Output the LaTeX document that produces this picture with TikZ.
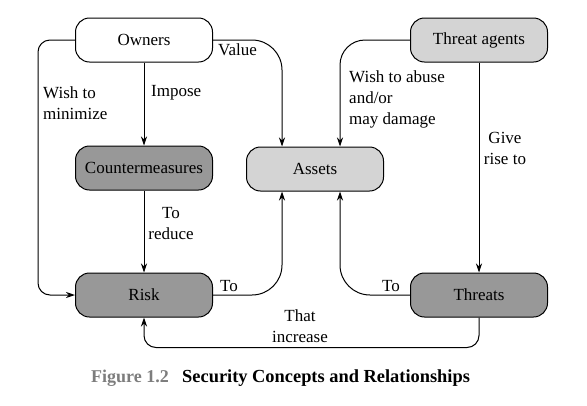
\documentclass[tikz,border=0pt]{standalone}
\usepackage{fontspec}
\setmainfont{Liberation Serif}
\usetikzlibrary{arrows.meta}
\definecolor{darkbox}{RGB}{152,152,152}
\definecolor{lightbox}{RGB}{212,212,212}
\definecolor{capgray}{RGB}{125,125,125}
\begin{document}
\begin{tikzpicture}[x=1pt,y=-1pt,
  box/.style={draw,line width=1pt,rounded corners=14pt,minimum width=137pt,minimum height=44pt,inner sep=0pt,font=\fontsize{17}{21}\selectfont},
  lab/.style={inner sep=0pt,font=\fontsize{17}{21}\selectfont},
  arr/.style={draw,line width=1pt,-{Stealth[length=9pt,width=6pt]}}]
\useasboundingbox (0,0) rectangle (587,405);
\node[box,fill=white] (own) at (144,40) {Owners};
\node[box,fill=lightbox] (ta) at (479,40) {Threat agents};
\node[box,fill=darkbox] (cm) at (144,168) {Countermeasures};
\node[box,fill=lightbox] (as) at (315,169) {Assets};
\node[box,fill=darkbox] (risk) at (144,295) {Risk};
\node[box,fill=darkbox] (thr) at (479,295) {Threats};
% connectors
\draw[arr] (own) -- (cm);
\draw[arr] (cm) -- (risk);
\draw[arr] (ta) -- (thr);
\draw[arr,rounded corners=12pt] (own.west) -- ++(-37,0) |- (risk.west);
\draw[arr,rounded corners=30pt] (own.east) -| ([xshift=-33pt]as.north);
\draw[arr,rounded corners=25pt] (ta.west) -| ([xshift=25pt]as.north);
\draw[arr,rounded corners=30pt] (risk.east) -| ([xshift=-33pt]as.south);
\draw[arr,rounded corners=30pt] (thr.west) -| ([xshift=25pt]as.south);
\draw[arr,rounded corners=12pt] (thr.south) -- ++(0,30) -| (risk.south);
% labels
\node[lab,anchor=west] (l1) at (151,93) {Impose};
\node[lab,anchor=west,align=left] (l2) at (43,103) {Wish to\\minimize};
\node[lab,anchor=west] (l3) at (218,50) {Value};
\node[lab,anchor=west,align=left] (l4) at (349,99) {Wish to abuse\\and/or\\may damage};
\node[lab,align=center] (l5) at (505,148) {Give\\rise to};
\node[lab,align=center] (l6) at (171,224) {To\\reduce};
\node[lab] (l7) at (229,286) {To};
\node[lab] (l8) at (391,286) {To};
\node[lab,align=center] (l9) at (300,326) {That\\increase};
\node[lab,anchor=west,font=\fontsize{18}{21}\selectfont\bfseries,text=capgray] (c1) at (91,378) {Figure 1.2};
\node[lab,anchor=west,font=\fontsize{18.4}{21}\selectfont\bfseries] (c2) at (182,378) {Security Concepts and Relationships};
\end{tikzpicture}
\end{document}
